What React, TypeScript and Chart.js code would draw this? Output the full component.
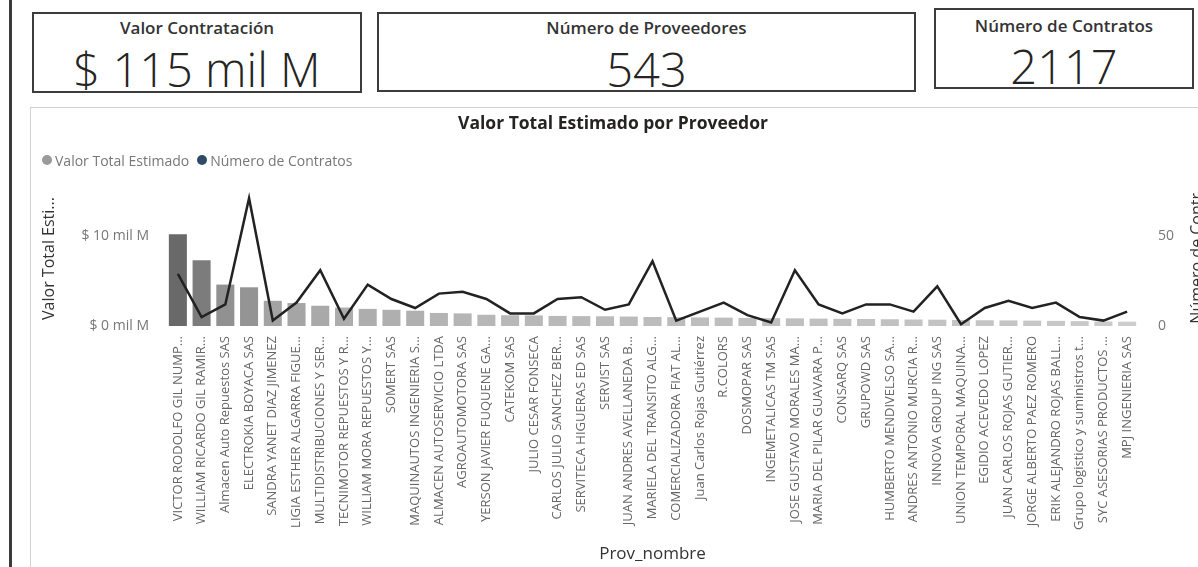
import React, { useEffect, useRef } from "react";
import { Chart, registerables } from "chart.js";

Chart.register(...registerables);

const categories = [
  "VICTOR RODOLFO GIL NUMP...",
  "WILLIAM RICARDO GIL RAMIR...",
  "Almacen Auto Repuestos SAS",
  "ELECTROKIA BOYACA SAS",
  "SANDRA YANET DIAZ JIMENEZ",
  "LIGIA ESTHER ALGARRA FIGUE...",
  "MULTIDISTRIBUCIONES Y SER...",
  "TECNIMOTOR REPUESTOS Y R...",
  "WILLIAM MORA REPUESTOS Y...",
  "SOMERT SAS",
  "MAQUINAUTOS INGENIERIA S...",
  "ALMACEN AUTOSERVICIO LTDA",
  "AGROAUTOMOTORA SAS",
  "YERSON JAVIER FUQUENE GA...",
  "CATEKOM SAS",
  "JULIO CESAR FONSECA",
  "CARLOS JULIO SANCHEZ BER...",
  "SERVITECA HIGUERAS ED SAS",
  "SERVIST SAS",
  "JUAN ANDRES AVELLANEDA B...",
  "MARIELA DEL TRANSITO ALG...",
  "COMERCIALIZADORA FIAT AL...",
  "Juan Carlos Rojas Gutiérrez",
  "R.COLORS",
  "DOSMOPAR SAS",
  "INGEMETALICAS TM SAS",
  "JOSE GUSTAVO MORALES MA...",
  "MARIA DEL PILAR GUAVARA P...",
  "CONSARQ SAS",
  "GRUPOWD SAS",
  "HUMBERTO MENDIVELSO SA...",
  "ANDRES ANTONIO MURCIA R...",
  "INNOVA GROUP ING SAS",
  "UNION TEMPORAL MAQUINA...",
  "EGIDIO ACEVEDO LOPEZ",
  "JUAN CARLOS ROJAS GUTIER...",
  "JORGE ALBERTO PAEZ ROMERO",
  "ERIK ALEJANDRO ROJAS BALL...",
  "Grupo logistico y suministros t...",
  "SYC ASESORIAS PRODUCTOS ...",
  "MPJ INGENIERIA SAS",
];

// Valor Total Estimado (mil M)
const valorTotal = [
  10.2, 7.3, 4.6, 4.3, 2.8, 2.55, 2.25, 2.05, 1.9, 1.8, 1.7, 1.45, 1.4, 1.25,
  1.2, 1.18, 1.12, 1.1, 1.08, 1.05, 1.0, 0.98, 0.95, 0.93, 0.9, 0.87, 0.85,
  0.82, 0.8, 0.78, 0.75, 0.72, 0.7, 0.67, 0.64, 0.62, 0.6, 0.57, 0.54, 0.5,
  0.48,
];

// Número de Contratos
const numContratos = [
  29, 5, 12, 71, 3, 13, 31, 4, 23, 15, 10, 18, 19, 15, 7, 7, 15, 16, 9, 12,
  36, 3, 8, 13, 6, 2, 31, 12, 7, 12, 12, 8, 22, 1, 10, 14, 10, 13, 5, 3, 8,
];

const leftTicks = [0, 10];
const rightTicks = [0, 50];

const seriesNames = ["Valor Total Estimado", "Número de Contratos"];
const legendColors = ["#9a9a9a", "#2f4b66"];

const kpis = [
  { title: "Valor Contratación", value: "$ 115 mil M" },
  { title: "Número de Proveedores", value: "543" },
  { title: "Número de Contratos", value: "2117" },
];

const FONT = "'Open Sans', 'Noto Sans', sans-serif";

function barColor(v: number, minV: number, maxV: number) {
  const t = Math.pow((v - minV) / (maxV - minV), 0.6);
  const l = Math.round(205 - t * 100);
  return `rgb(${l},${l},${l})`;
}

const cardBoxes = [
  { left: 32, top: 12, width: 330, height: 81, titleY: 26, valueY: 67 },
  { left: 377, top: 12, width: 539, height: 80, titleY: 26, valueY: 67 },
  { left: 934, top: 8, width: 260, height: 81, titleY: 24, valueY: 64 },
];

export default function App() {
  const ref = useRef<HTMLCanvasElement | null>(null);

  useEffect(() => {
    document.body.style.margin = "0";
    Chart.defaults.font.family = FONT;
    const minV = Math.min(...valorTotal);
    const maxV = Math.max(...valorTotal);
    const colors = valorTotal.map((v) => barColor(v, minV, maxV));
    const chart = new Chart(ref.current as HTMLCanvasElement, {
      type: "bar",
      data: {
        labels: categories,
        datasets: [
          {
            type: "line",
            label: seriesNames[1],
            data: numContratos,
            yAxisID: "y1",
            borderColor: "#222222",
            borderWidth: 2.5,
            pointRadius: 0,
            tension: 0,
            order: 0,
          } as any,
          {
            type: "bar",
            label: seriesNames[0],
            data: valorTotal,
            yAxisID: "y",
            backgroundColor: colors,
            barPercentage: 0.76,
            categoryPercentage: 1,
            order: 1,
          } as any,
        ],
      },
      options: {
        responsive: false,
        animation: false,
        devicePixelRatio: 1,
        layout: { padding: { top: 191, left: 0, right: 0, bottom: 0 } },
        plugins: {
          legend: { display: false },
          tooltip: { enabled: false },
          title: { display: false },
        },
        scales: {
          x: {
            grid: { display: false, drawTicks: false },
            border: { display: false },
            ticks: {
              autoSkip: false,
              maxRotation: 90,
              minRotation: 90,
              padding: 10,
              color: "#666666",
              font: { size: 13 },
            },
            title: {
              display: true,
              text: "Prov_nombre",
              color: "#333333",
              font: { size: 17 },
              padding: { top: 0, bottom: 3 },
            },
            afterFit: (s: any) => {
              s.height = 567 - 326;
            },
          },
          y: {
            position: "left",
            min: 0,
            max: 15,
            grid: { display: false, drawTicks: false },
            border: { display: false },
            afterBuildTicks: (s: any) => {
              s.ticks = leftTicks.map((v) => ({ value: v }));
            },
            ticks: {
              padding: 17,
              color: "#777777",
              font: { size: 14 },
              callback: (v: any) => `$ ${v} mil M`,
            },
            title: {
              display: true,
              text: "Valor Total Esti...",
              color: "#333333",
              font: { size: 16 },
              padding: { top: 40, bottom: 0 },
            },
            afterFit: (s: any) => {
              s.width = 166;
            },
          },
          y1: {
            position: "right",
            min: 0,
            max: 75,
            grid: { display: false, drawTicks: false },
            border: { display: false },
            afterBuildTicks: (s: any) => {
              s.ticks = rightTicks.map((v) => ({ value: v }));
            },
            ticks: {
              padding: 19,
              color: "#777777",
              font: { size: 14 },
            },
            afterFit: (s: any) => {
              s.width = 59;
            },
          },
        },
      } as any,
    });
    return () => chart.destroy();
  }, []);

  return (
    <div
      style={{
        position: "absolute",
        left: 0,
        top: 0,
        width: 1198,
        height: 567,
        overflow: "hidden",
        background: "#ffffff",
        fontFamily: FONT,
        color: "#252423",
      }}
    >
      {/* page edge */}
      <div style={{ position: "absolute", left: 9, top: 0, width: 3, height: 567, background: "#3a3a3a" }} />
      {/* KPI cards */}
      {kpis.map((k, i) => {
        const b = cardBoxes[i];
        return (
          <div
            key={i}
            style={{
              position: "absolute",
              left: b.left,
              top: b.top,
              width: b.width,
              height: b.height,
              border: "2px solid #3c3c3c",
              boxSizing: "border-box",
            }}
          >
            <div
              style={{
                position: "absolute",
                left: 0,
                right: 0,
                top: b.titleY - b.top - 12,
                height: 24,
                lineHeight: "24px",
                textAlign: "center",
                fontWeight: 600,
                fontSize: 17,
                color: "#333",
                whiteSpace: "nowrap",
              }}
            >
              {k.title}
            </div>
            <div
              style={{
                position: "absolute",
                left: 0,
                right: 0,
                top: b.valueY - b.top - 30,
                height: 60,
                lineHeight: "60px",
                textAlign: "center",
                fontWeight: 300,
                fontSize: 47,
                color: "#252423",
                whiteSpace: "nowrap",
              }}
            >
              {k.value}
            </div>
          </div>
        );
      })}
      {/* chart panel border */}
      <div
        style={{
          position: "absolute",
          left: 30,
          top: 107,
          width: 1170,
          height: 470,
          borderTop: "1px solid #d2d2d2",
          borderLeft: "1px solid #d2d2d2",
        }}
      />
      <canvas
        ref={ref}
        width={1198}
        height={567}
        style={{ position: "absolute", left: 0, top: 0, width: 1198, height: 567 }}
      />
      {/* chart title */}
      <div
        style={{
          position: "absolute",
          left: 28,
          width: 1170,
          top: 110,
          height: 24,
          lineHeight: "24px",
          textAlign: "center",
          fontWeight: 700,
          fontSize: 17.5,
          color: "#252423",
        }}
      >
        Valor Total Estimado por Proveedor
      </div>
      {/* legend */}
      <div
        style={{
          position: "absolute",
          left: 42,
          top: 150,
          height: 20,
          display: "flex",
          alignItems: "center",
          fontSize: 14,
          color: "#777",
          whiteSpace: "nowrap",
        }}
      >
        {seriesNames.map((n, i) => (
          <span key={i} style={{ display: "inline-flex", alignItems: "center", marginRight: 8 }}>
            <span
              style={{
                display: "inline-block",
                width: 10,
                height: 10,
                borderRadius: "50%",
                background: legendColors[i],
                marginRight: 3,
              }}
            />
            {n}
          </span>
        ))}
      </div>
      {/* right axis title */}
      <div
        style={{
          position: "absolute",
          left: 1196 - 80,
          top: 252 - 10,
          width: 160,
          height: 20,
          lineHeight: "20px",
          textAlign: "center",
          fontSize: 16,
          color: "#333",
          transform: "rotate(-90deg)",
          whiteSpace: "nowrap",
        }}
      >
        Número de Contr...
      </div>
    </div>
  );
}
